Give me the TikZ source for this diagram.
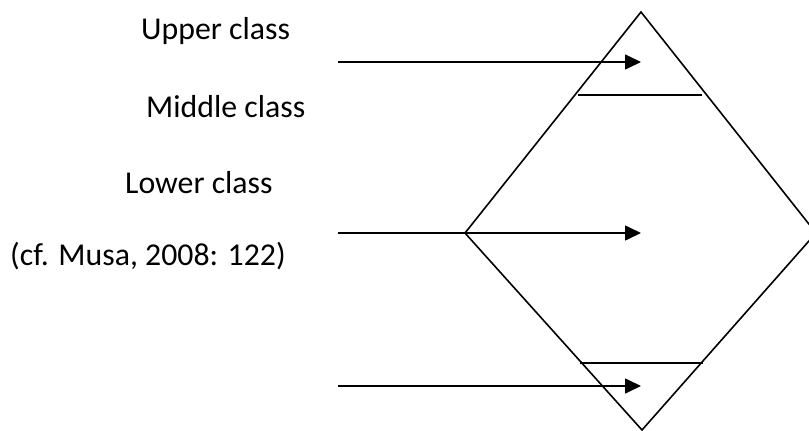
\documentclass[tikz,border=0pt]{standalone}
\usepackage{fontspec}
\setmainfont{Carlito}
\usetikzlibrary{arrows.meta}
\begin{document}
\begin{tikzpicture}[x=1pt,y=-1pt,
  edge/.style={line width=1.6pt,line join=miter},
  arr/.style={line width=1.6pt,-{Triangle[length=16pt,width=15pt]}},
  lbl/.style={anchor=base west,inner sep=0pt,font=\fontsize{31.8}{38}\selectfont}]
\useasboundingbox (0,0) rectangle (809,431);
\clip (0,0) rectangle (809,431);
% diamond
\coordinate (T) at (641,12);
\coordinate (L) at (465,233);
\coordinate (R) at (816,233);
\coordinate (B) at (642,430);
\draw[edge] (T) -- (L) -- (B) -- (R) -- cycle;
% dividing lines
\coordinate (h1a) at (578,95);
\coordinate (h1b) at (702,95);
\coordinate (h2a) at (580,363);
\coordinate (h2b) at (703,363);
\draw[edge] (h1a) -- (h1b);
\draw[edge] (h2a) -- (h2b);
% arrows
\coordinate (a1s) at (338,62);   \coordinate (a1e) at (641,62);
\coordinate (a2s) at (338,233);  \coordinate (a2e) at (641,233);
\coordinate (a3s) at (338,386);  \coordinate (a3e) at (641,386);
\draw[arr] (a1s) -- (a1e);
\draw[arr] (a2s) -- (a2e);
\draw[arr] (a3s) -- (a3e);
% labels
\node[lbl] (upper) at (141,39) {Upper class};
\node[lbl] (middle) at (146,117) {Middle class};
\node[lbl] (lower) at (125,193) {Lower class};
\node[lbl] (cite) at (10,265) {(cf. Musa, 2008: 122)};
\end{tikzpicture}
\end{document}
